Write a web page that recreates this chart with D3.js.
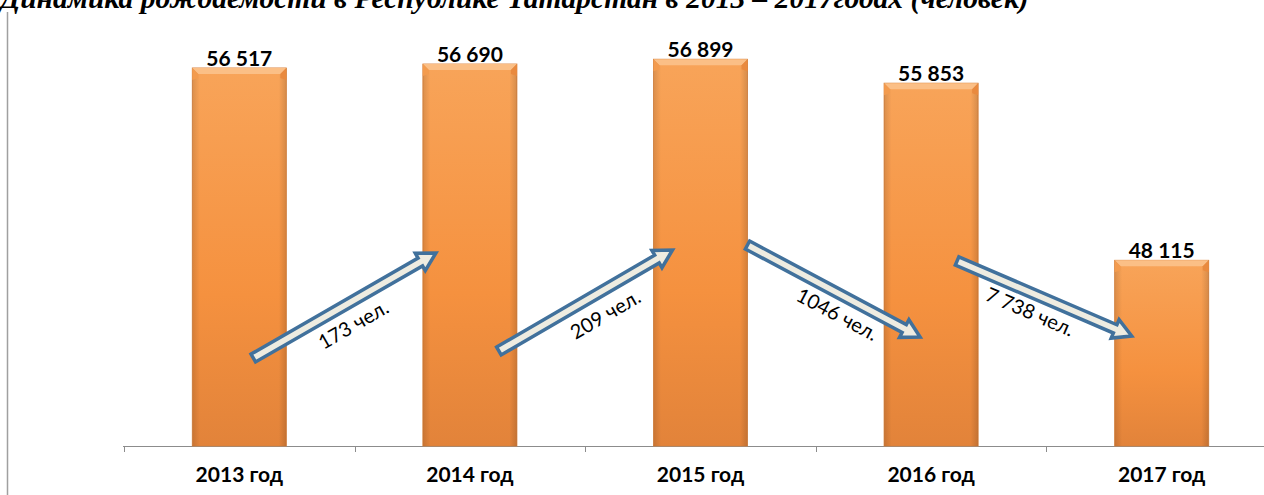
<!DOCTYPE html>
<meta charset="utf-8">
<style>
body { margin: 0; background: #fff; }
svg { display: block; }
.title { font-family: "Liberation Serif", "Times New Roman", serif; font-weight: bold; font-style: italic; }
.val, .cat { font-family: Lato, "Open Sans", sans-serif; font-weight: bold; fill: #000; }
.chg { font-family: Lato, "Open Sans", sans-serif; fill: #000; }
</style>

<svg width="1264" height="495"></svg>

<script src="https://d3js.org/d3.v7.min.js"></script>
<script>

// данные
var years = ["2013 год", "2014 год", "2015 год", "2016 год", "2017 год"];
var births = [56517, 56690, 56899, 55853, 48115];
var valueLabels = ["56 517", "56 690", "56 899", "55 853", "48 115"];
var changeLabels = ["173 чел.", "209 чел.", "1046 чел.", "7 738 чел."];
var titleText = "Динамика рождаемости в Республике Татарстан в 2013 – 2017годах (человек)";

// раскладка стрелок: хвост/острие (dx от центра столбца, y в px), смещение подписи [вдоль, поперёк]
var arrowLayout = [
  {tail: [14, 358], tip: [-34, 253], lab: [-2, 23]},
  {tail: [29, 351], tip: [-28, 250], lab: [10, 24]},
  {tail: [47, 245], tip: [-11, 337], lab: [14, 21]},
  {tail: [26, 261], tip: [-30, 336], lab: [-8, 20]}
];

var svg = d3.select("svg"),
    width = +svg.attr("width"),
    height = +svg.attr("height");

var x = d3.scaleBand().domain(years).range([124, 1277]).paddingInner(0.592).paddingOuter(0.296);
var y = d3.scaleLinear().domain([40000, 58000]).range([446, 34]);

var defs = svg.append("defs");
var g1 = defs.append("linearGradient").attr("id", "body").attr("x1", 0).attr("x2", 0).attr("y1", 0).attr("y2", 1);
g1.append("stop").attr("offset", "0%").attr("stop-color", "#f8a459");
g1.append("stop").attr("offset", "60%").attr("stop-color", "#f5913f");
g1.append("stop").attr("offset", "100%").attr("stop-color", "#e2833a");
var g2 = defs.append("linearGradient").attr("id", "side").attr("x1", 0).attr("x2", 1).attr("y1", 0).attr("y2", 0);
g2.append("stop").attr("offset", "0%").attr("stop-color", "#000").attr("stop-opacity", 0.12);
g2.append("stop").attr("offset", "8%").attr("stop-color", "#000").attr("stop-opacity", 0);
g2.append("stop").attr("offset", "92%").attr("stop-color", "#000").attr("stop-opacity", 0);
g2.append("stop").attr("offset", "100%").attr("stop-color", "#000").attr("stop-opacity", 0.14);

// заголовок (обрезан сверху, как в оригинале)
svg.append("text").attr("class", "title")
    .attr("x", 0).attr("y", 8)
    .style("font-size", "29.5px")
    .text(titleText);

// левая рамка
svg.append("line").attr("x1", 7.5).attr("x2", 7.5).attr("y1", 12).attr("y2", height)
    .attr("stroke", "#a0a0a0").attr("stroke-width", 1.5);

// ось
var ax = svg.append("g");
ax.append("line").attr("x1", x.range()[0] - 1).attr("x2", width).attr("y1", y.range()[0] + 0.5).attr("y2", y.range()[0] + 0.5)
    .attr("stroke", "#8c8c8c").attr("stroke-width", 1);
ax.selectAll(".tk").data(years).enter().append("line")
    .attr("x1", d => Math.round(x(d) - x.step() * x.paddingOuter()) + 0.5)
    .attr("x2", d => Math.round(x(d) - x.step() * x.paddingOuter()) + 0.5)
    .attr("y1", y.range()[0]).attr("y2", y.range()[0] + 6)
    .attr("stroke", "#8c8c8c");

ax.selectAll(".cat").data(years).enter().append("text")
    .attr("class", "cat")
    .attr("x", d => x(d) + x.bandwidth() / 2)
    .attr("y", 482)
    .attr("text-anchor", "middle")
    .style("font-size", "21px")
    .text(d => d);

// столбцы
var bw = x.bandwidth(), bv = 6;
var bars = svg.append("g").selectAll("g").data(births).enter().append("g")
    .attr("transform", (d, i) => "translate(" + x(years[i]) + "," + y(d) + ")");

bars.append("rect")
    .attr("width", bw).attr("height", d => y.range()[0] - y(d))
    .attr("fill", "url(#body)").attr("stroke", "#d9823c").attr("stroke-width", 0.8);
bars.append("rect")
    .attr("width", bw).attr("height", d => y.range()[0] - y(d))
    .attr("fill", "url(#side)");
bars.append("path")
    .attr("d", "M0,0H" + bw + "L" + (bw - bv) + "," + bv + "H" + bv + "Z")
    .attr("fill", "#fbbf86");
bars.append("path")
    .attr("d", "M0,0L" + bv + "," + bv + "V" + (bv + 4) + "L0," + (bv + 6) + "Z")
    .attr("fill", "#f39b4e");
bars.append("path")
    .attr("d", "M" + bw + ",0L" + (bw - bv) + "," + bv + "V" + (bv + 4) + "L" + bw + "," + (bv + 6) + "Z")
    .attr("fill", "#e98a3f");

svg.append("g").selectAll("text").data(births).enter().append("text")
    .attr("class", "val")
    .attr("x", (d, i) => x(years[i]) + bw / 2)
    .attr("y", d => y(d) - 2)
    .attr("text-anchor", "middle")
    .style("font-size", "21px")
    .text((d, i) => valueLabels[i]);

// стрелки изменений
function arrowPath(len) {
  var sw = 4.5, hw = 10, hl = 18;
  return "M0," + (-sw) + "H" + (len - hl) + "V" + (-hw) + "L" + len + ",0L" + (len - hl) + "," + hw +
         "V" + sw + "H0Z";
}

svg.append("g").selectAll("g").data(changeLabels).enter().append("g")
    .each(function(lbl, i) {
      var a = arrowLayout[i];
      var cx0 = x(years[i]) + bw / 2, cx1 = x(years[i + 1]) + bw / 2;
      var x0 = cx0 + a.tail[0], y0 = a.tail[1], x1 = cx1 + a.tip[0], y1 = a.tip[1];
      var len = Math.hypot(x1 - x0, y1 - y0), ang = Math.atan2(y1 - y0, x1 - x0) * 180 / Math.PI;
      var gg = d3.select(this).attr("transform", "translate(" + x0 + "," + y0 + ") rotate(" + ang + ")");
      gg.append("path").attr("d", arrowPath(len))
          .attr("fill", "#eeece1").attr("stroke", "#41719c").attr("stroke-width", 3.5)
          .attr("stroke-linejoin", "miter");
      gg.append("text").attr("class", "chg")
          .attr("x", len / 2 + a.lab[0]).attr("y", a.lab[1])
          .attr("text-anchor", "middle").attr("dominant-baseline", "middle")
          .style("font-size", "20px")
          .text(lbl);
    });

</script>
